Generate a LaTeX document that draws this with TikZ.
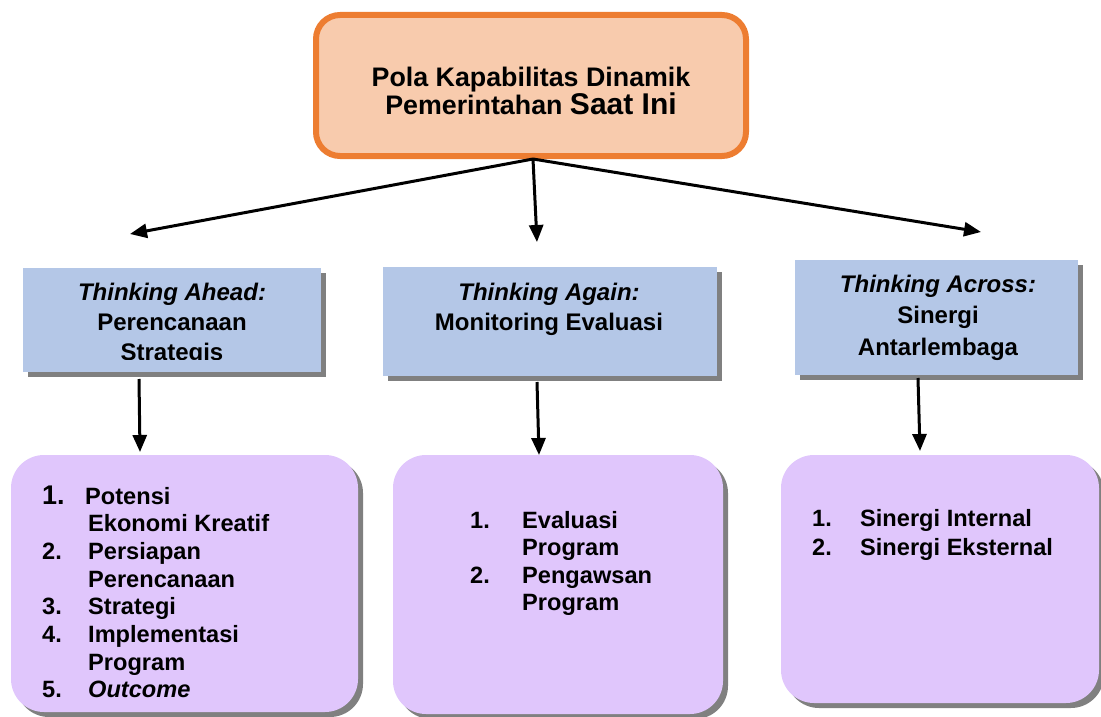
\documentclass[tikz,border=0pt]{standalone}
\usepackage{fontspec}
\setmainfont{Liberation Sans}
\usetikzlibrary{arrows.meta,shadows}

\definecolor{capOrange}{RGB}{237,125,49}
\definecolor{capPeach}{RGB}{248,203,173}
\definecolor{thinkBlue}{RGB}{180,199,231}
\definecolor{listLilac}{RGB}{224,198,252}
\definecolor{shadeGray}{RGB}{128,128,128}

\tikzset{
  arr/.style={line width=3pt, -{Triangle[length=17pt,width=14pt]}},
  hardshadow/.style={general shadow={fill=shadeGray, shadow xshift=5pt, shadow yshift=-5pt}},
  topbox/.style={rectangle, rounded corners=24pt, draw=capOrange, line width=6pt, fill=capPeach, inner sep=0pt},
  thinkbox/.style={rectangle, fill=thinkBlue, inner sep=0pt, hardshadow},
  listbox/.style={rectangle, rounded corners=33pt, fill=listLilac, inner sep=0pt, hardshadow},
  label/.style={inner sep=0pt, font=\bfseries},
}

\begin{document}
\begin{tikzpicture}[x=1pt,y=-1pt]
\useasboundingbox (0,0) rectangle (1101,717);

% heading box
\node[topbox, minimum width=430pt, minimum height=141pt] (top) at (531,85.5) {};
\node[label, anchor=base] (toptxt) at (531,87)
  {\fontsize{26.8}{28}\selectfont\bfseries
   \begin{tabular}[t]{@{}c@{}}Pola Kapabilitas Dinamik\\
   Pemerintahan \smash{\fontsize{30}{28}\selectfont Saat Ini}\end{tabular}};

% the three modes of thinking
\node[thinkbox, minimum width=298pt, minimum height=104pt] (ta) at (172,320) {};
\node[thinkbox, minimum width=334pt, minimum height=109pt] (tg) at (550,321.5) {};
\node[thinkbox, minimum width=283pt, minimum height=115pt] (tc) at (936.5,317.5) {};

\begin{scope}
  \clip (23,268) rectangle (321,359);
  \node[label, anchor=base] (tatxt) at (172,300.6)
    {\fontsize{24}{30}\selectfont\bfseries
     \begin{tabular}[t]{@{}c@{}}\textit{Thinking Ahead:}\\Perencanaan\\Strategis\end{tabular}};
\end{scope}
\node[label, anchor=base] (tgtxt) at (549,300.6)
  {\fontsize{24}{30}\selectfont\bfseries
   \begin{tabular}[t]{@{}c@{}}\textit{Thinking Again:}\\Monitoring Evaluasi\end{tabular}};
\node[label, anchor=base] (tctxt) at (938,292)
  {\fontsize{24}{31.5}\selectfont\bfseries
   \begin{tabular}[t]{@{}c@{}}\textit{Thinking Across:}\\Sinergi\\Antarlembaga\end{tabular}};

% lists of activities
\node[listbox, minimum width=347pt, minimum height=257pt] (la) at (184.5,583.5) {};
\node[listbox, minimum width=330pt, minimum height=259pt] (lg) at (558,584.5) {};
\node[listbox, minimum width=318pt, minimum height=248pt] (lc) at (940,579) {};

\node[label, anchor=base west] (latxt) at (42,504)
  {\fontsize{23.6}{27.7}\selectfont\bfseries
   \begin{tabular}[t]{@{}p{46pt}@{}l@{}}
   {\fontsize{27}{27.7}\selectfont 1.} & \hspace{-3pt}Potensi\\
    & Ekonomi Kreatif\\
   2. & Persiapan\\
    & Perencanaan\\
   3. & Strategi\\
   4. & Implementasi\\
    & Program\\
   5. & \textit{Outcome}
   \end{tabular}};
\node[label, anchor=base west] (lgtxt) at (470,528.5)
  {\fontsize{23.6}{27.4}\selectfont\bfseries
   \begin{tabular}[t]{@{}p{52pt}@{}l@{}}
   1. & Evaluasi\\
    & Program\\
   2. & Pengawsan\\
    & Program
   \end{tabular}};
\node[label, anchor=base west] (lctxt) at (812,526.5)
  {\fontsize{23.6}{29}\selectfont\bfseries
   \begin{tabular}[t]{@{}p{48pt}@{}l@{}}
   1. & Sinergi Internal\\
   2. & Sinergi Eksternal
   \end{tabular}};

% connectors
\coordinate (hub) at (533,159);
\coordinate (tipA) at (130,234);
\coordinate (tipG) at (537,242);
\coordinate (tipC) at (981,232);
\draw[arr] (hub) -- (tipA);
\draw[arr] (hub) -- (tipG);
\draw[arr] (hub) -- (tipC);

\coordinate (da1) at (139,379);
\coordinate (da2) at (140,452);
\coordinate (dg1) at (537,382);
\coordinate (dg2) at (539,455);
\coordinate (dc1) at (918,378);
\coordinate (dc2) at (920,451);
\draw[arr] (da1) -- (da2);
\draw[arr] (dg1) -- (dg2);
\draw[arr] (dc1) -- (dc2);
\end{tikzpicture}
\end{document}
